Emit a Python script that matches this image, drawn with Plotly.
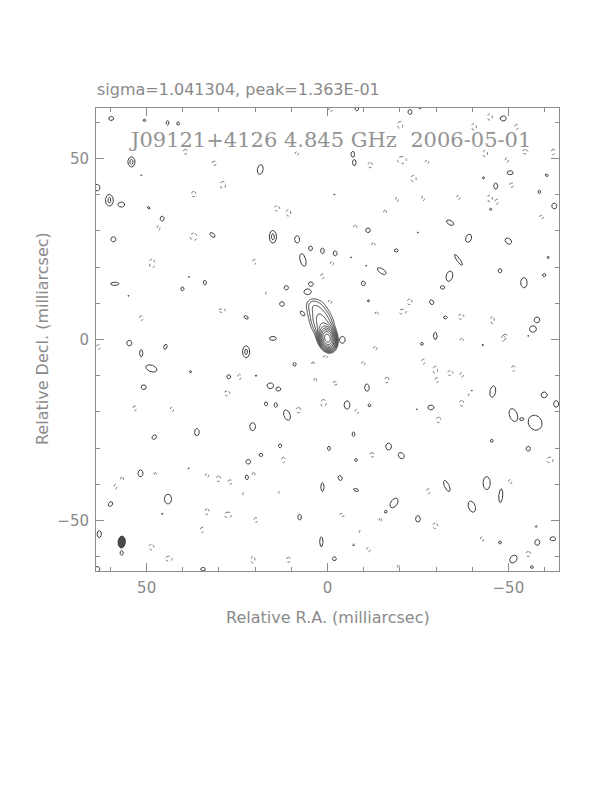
import numpy as np
import plotly.graph_objects as go

# ---------------- text ----------------
title_text = "sigma=1.041304, peak=1.363E-01"
map_label = "J09121+4126 4.845 GHz  2006-05-01"
x_title = "Relative R.A. (milliarcsec)"
y_title = "Relative Decl. (milliarcsec)"
tick_vals = [-50, 0, 50]
tick_text = ["\u221250", "0", "50"]
minor_vals = [-60, -40, -30, -20, -10, 10, 20, 30, 40, 60]
half_size = 64.0

# ---------------- main source model components (mas, mJy) ----------------
comp_x = [0.0, 1.5, 3.2, 4.6]
comp_y = [0.3, 4.5, 8.8, 10.0]
comp_flux = [118.0, 14.0, 6.0, 2.0]
comp_maj = [3.8, 6.0, 5.0, 3.0]
comp_min = [2.6, 4.8, 5.0, 3.0]
comp_pa = [15.0, 20.0, 0.0, 0.0]
contour_base = 4.25
contour_factor = np.sqrt(2.0)
n_levels = 10

# ---------------- restoring beam ----------------
beam_x = [56.9]
beam_y = [-56.0]
beam_w = [2.0]
beam_h = [3.3]
beam_pa = [-5.0]

# ---------------- positive (solid) lowest-level contour islands ----------------
pos_x = [59.8, 50.6, 44.2, 41.3, 54.2, 54.2, 51.5, 18.6, 63.7, 60.3, 60.3, 57.0, 49.4, 45.7, 59.2, 31.8, 15.1, 15.1, 8.4, 4.7, 1.4, 6.8, 58.8, 33.9, 40.1, 11.4, 4.6, 5.5, 12.6, 6.9, 22.5, 15.1, 38.3, 55.0,
         -8.1, -22.8, -25.6, -48.6, -7.0, -7.4, -50.5, -43.1, -46.5, -60.6, -58.6, -62.7, -45.1, -33.9, -11.2, -39.0, -50.0, -2.1, -19.0, -36.2, -61.0, -15.0, -33.7, -9.9, -31.8, -47.7, -59.9, -54.3, -11.3, -28.8, -32.6, -57.9, -56.8, -29.8, -1.9, -6.5, -10.7, -55.5, -25.0,
         54.8, 51.5, 44.8, 22.5, 22.5, 48.7, 37.9, 27.3, 19.8, 50.8, 15.8, 13.6, 17.0, 14.3, 11.2, 20.7, 36.1, 47.9, 13.1, 18.4, 21.9, 51.7, 22.3, 1.4, 60.0, 44.1, 45.7, 7.7, 63.1, 56.9, 1.7, 34.4, 63.7, -0.4, 9.1, 38.4,
         -4.1, -26.1, -42.9, -10.9, -45.7, -59.9, -63.2, -5.4, -11.6, -28.6, -51.4, -53.7, -57.4, -39.9, -24.7, -45.4, -7.2, -7.9, -16.9, -20.4, -55.5, -3.5, -7.9, -33.0, -44.0, -47.9, -18.4, -16.1, -39.9, -25.0, -57.7, -58.0, -62.3, -47.7, -7.2, -1.9, -51.4, -56.5]
pos_y = [61.1, 60.6, 59.9, 59.7, 49.1, 49.1, 45.4, 47.0, 42.0, 38.5, 38.5, 37.3, 36.4, 33.4, 27.7, 28.9, 28.4, 28.4, 27.7, 25.2, 24.5, 22.0, 15.4, 15.7, 14.0, 14.3, 15.3, 13.2, 9.8, 7.2, 6.1, 0.3, 17.3, 12.1,
         63.9, 62.9, 64.3, 61.1, 51.2, 48.9, 46.1, 44.7, 42.4, 45.4, 40.8, 36.9, 36.0, 32.3, 30.2, 28.0, 27.2, 23.8, 24.6, 22.0, 22.7, 18.9, 17.5, 15.5, 14.4, 19.0, 17.8, 15.7, 10.7, 10.3, 6.1, 5.4, 2.9, 1.0, 40.1, 22.7, 20.4, 1.0, 29.6,
         -1.0, -3.8, -2.0, -3.4, -3.4, -8.0, -8.9, -10.3, -10.0, -13.2, -12.8, -13.7, -17.8, -18.1, -20.9, -24.1, -25.6, -27.0, -29.4, -31.9, -33.8, -37.0, -38.1, -40.8, -45.5, -44.1, -48.2, -49.1, -53.8, -59.0, -55.9, -63.5, -63.5, -30.1, -6.9, -35.6,
         -0.1, -1.2, -1.5, -13.3, -14.4, -15.3, -17.8, -18.1, -18.2, -18.8, -20.9, -22.0, -23.0, -14.1, -19.3, -28.0, -26.2, -33.3, -29.6, -32.1, -30.2, -38.3, -41.6, -40.5, -39.7, -43.2, -45.2, -47.6, -46.2, -49.6, -51.7, -56.1, -55.1, -56.1, -56.8, -60.6, -60.7, -62.9]
pos_w = [1.4, 0.8, 0.8, 0.8, 2.0, 0.9, 0.3, 1.6, 1.6, 2.2, 0.8, 1.9, 0.5, 1.1, 1.4, 1.0, 2.0, 0.8, 1.4, 1.1, 1.0, 1.6, 2.3, 0.9, 0.9, 1.2, 1.4, 2.0, 1.3, 1.0, 0.8, 1.9, 0.3, 0.3,
         1.0, 1.1, 1.0, 1.7, 1.0, 1.0, 1.7, 0.6, 1.1, 0.9, 0.8, 1.4, 0.6, 1.2, 1.3, 1.6, 1.5, 1.1, 1.1, 0.9, 0.6, 1.3, 1.8, 1.1, 1.2, 1.1, 1.0, 1.8, 0.6, 1.1, 1.1, 1.6, 1.9, 1.0, 0.3, 0.3, 0.3, 0.3, 0.3,
         1.4, 0.9, 0.9, 2.0, 0.8, 3.2, 0.6, 1.1, 0.4, 1.4, 1.8, 1.4, 0.9, 0.9, 1.7, 1.6, 1.3, 1.1, 0.9, 1.0, 1.3, 1.4, 0.9, 0.9, 1.1, 2.0, 0.4, 1.0, 1.2, 0.9, 0.9, 1.3, 1.5, 0.8, 0.9, 0.3,
         1.6, 0.8, 0.4, 1.3, 1.6, 1.7, 1.4, 1.6, 0.8, 1.7, 2.2, 1.2, 3.7, 0.3, 0.3, 0.8, 0.8, 0.8, 1.6, 1.5, 1.2, 1.1, 0.8, 1.3, 2.0, 1.1, 1.8, 0.8, 1.9, 1.3, 0.5, 1.4, 1.6, 0.8, 0.5, 1.1, 1.8, 0.8]
pos_h = [1.1, 0.6, 1.2, 0.9, 2.8, 1.5, 0.3, 2.7, 1.8, 3.2, 1.6, 1.4, 0.8, 1.4, 1.4, 1.7, 3.5, 1.7, 2.0, 1.3, 1.6, 3.6, 0.9, 1.3, 1.1, 1.2, 1.2, 1.6, 1.3, 1.6, 1.3, 1.1, 0.3, 0.3,
         1.4, 1.4, 1.0, 1.4, 1.6, 1.7, 1.1, 0.6, 1.7, 0.6, 0.9, 1.6, 0.6, 2.2, 1.3, 2.3, 2.0, 1.4, 0.9, 3.6, 0.6, 2.8, 2.9, 1.3, 1.0, 1.1, 0.8, 2.8, 0.6, 1.4, 0.8, 1.6, 1.8, 2.0, 0.3, 0.3, 0.3, 0.3, 0.3,
         1.6, 1.9, 1.4, 3.3, 1.5, 1.8, 0.6, 1.1, 0.4, 1.3, 1.6, 1.1, 1.1, 1.3, 3.0, 2.2, 2.0, 1.4, 1.1, 0.9, 1.3, 1.9, 1.3, 2.4, 1.4, 2.7, 0.4, 1.6, 1.9, 1.3, 2.8, 1.0, 1.5, 1.2, 1.0, 0.3,
         1.9, 0.8, 0.4, 2.0, 3.2, 1.6, 1.8, 2.3, 0.8, 1.3, 3.7, 0.8, 4.3, 0.3, 0.3, 0.8, 1.3, 0.8, 1.9, 1.9, 1.3, 1.4, 1.4, 3.3, 3.6, 3.8, 3.0, 0.8, 3.2, 1.8, 0.5, 1.6, 1.1, 0.8, 0.5, 1.1, 2.4, 0.8]
pos_pa = [0, 0, 0, 0, 0, 0, 0, -10, 0, 0, 0, 0, 45, 0, 0, 50, 0, 0, 0, 0, 0, 15, 0, 0, 0, 0, 0, 0, 0, 45, 60, 0, 0, 0,
          0, 0, 0, 0, 0, 0, 0, 0, 0, -30, 0, 0, 0, 60, 0, -20, 50, 0, 0, 35, 0, 55, -15, 0, 0, 0, 0, 0, 0, 30, 0, 0, 0, 0, 0, 0, 0, 0, 0,
          0, 0, -20, 0, 0, -20, 0, 0, 0, 0, 0, 0, 0, 0, 20, 0, 0, -45, 0, 0, 0, 0, 0, 0, -40, 0, 0, 0, 0, 0, 0, 0, 0, 0, 0, 0,
          0, 0, 0, 0, -10, 0, 0, 0, 0, 0, 20, 0, 30, 0, 0, 0, 0, 0, 0, 40, 0, 30, 70, 25, 0, -5, -35, 0, 20, 0, 0, 0, 0, 0, 0, 30, -40, 0]

# ---------------- negative (dotted) contour islands ----------------
neg_x = [39.3, 31.3, 28.9, 37.0, 14.0, 10.8, 46.7, 37.0, 48.5, 20.2, 1.4, 16.9, 29.2, 51.5, 8.5,
         -0.7, -20.1, -20.6, -11.8, -27.5, -23.8, -19.2, -26.4, -36.2, -44.9, -46.8, -44.9, -40.5, -52.3, -43.6, -49.6, -54.6, -62.4, -50.9, -59.2, -15.9, -7.7, -12.7, -1.2, -22.7, -20.8, -36.9, -45.6, -13.6, -49.1,
         63.3, 53.3, 43.0, 27.8, 24.3, 4.0, 3.4, 1.1, 8.0, 12.2, 33.3, 30.1, 26.9, 47.6, 20.4, 23.2, 56.8, 58.6, 33.3, 27.5, 19.8, 34.7, 13.3, 48.7, 43.9, 20.6, 10.8,
         -13.2, -9.9, -26.5, -29.8, -30.2, -33.9, -37.1, -51.4, -16.4, -2.1, -8.1, -30.7, -37.1, -48.6, -37.1, -12.3, -61.5, -27.9, -50.5, -4.0, -14.6, -29.8, -9.0, -42.7, -11.3, -39.2, -55.5, -19.6,
         -0.7, 0.6]
neg_y = [51.9, 48.7, 42.7, 40.2, 36.2, 35.0, 30.9, 28.4, 21.0, 21.5, 17.5, 12.8, 8.0, 5.9, 51.4,
         63.4, 59.3, 49.6, 48.2, 49.1, 44.5, 38.7, 39.0, 39.3, 39.0, 38.1, 61.5, 58.8, 58.8, 51.4, 49.6, 51.9, 51.9, 42.7, 33.9, 35.3, 31.2, 26.3, 21.0, 10.4, 7.7, 6.3, 5.4, 7.2, 0.8,
         -2.0, -19.0, -19.3, -14.9, -10.3, -6.6, -11.2, -17.6, -19.5, -33.3, -37.6, -38.5, -39.4, -37.2, -37.2, -42.7, -38.5, -40.7, -47.6, -48.5, -49.9, -52.6, -42.3, -57.4, -60.6, -60.9, -60.9,
         -2.4, -6.6, -6.1, -8.4, -11.2, -9.3, -9.8, -8.0, -11.2, -12.1, -19.9, -22.2, -17.6, 0.3, -0.1, -31.9, -33.3, -41.9, -39.3, -48.5, -49.9, -51.5, -53.1, -55.2, -58.1, -15.3, -59.3, -62.8,
         10.4, -4.8]
neg_w = [1.3, 1.2, 1.5, 1.3, 1.5, 1.3, 0.8, 2.0, 1.5, 1.0, 1.0, 0.6, 2.0, 1.0, 1.0,
         1.3, 1.5, 2.5, 1.3, 1.0, 1.5, 0.8, 0.8, 1.0, 1.4, 1.0, 1.4, 1.4, 1.0, 1.4, 1.0, 1.6, 1.0, 1.2, 1.2, 0.8, 1.0, 1.0, 1.0, 1.4, 2.0, 1.6, 1.0, 1.0, 1.2,
         1.0, 1.0, 1.0, 1.6, 1.0, 0.8, 0.8, 1.6, 1.2, 1.0, 1.0, 1.2, 1.2, 0.8, 0.8, 0.6, 0.8, 0.8, 1.2, 2.0, 1.0, 0.8, 0.6, 1.4, 2.0, 1.2, 1.2,
         1.0, 1.0, 1.0, 1.4, 1.0, 1.6, 1.0, 1.0, 1.2, 1.4, 1.0, 1.2, 1.2, 1.0, 1.0, 1.4, 1.8, 1.0, 1.0, 1.2, 0.8, 1.4, 0.6, 1.0, 1.0, 0.6, 1.4, 0.8,
         1.0, 1.2]
neg_h = [1.3, 1.2, 2.0, 1.5, 1.5, 1.8, 1.3, 2.0, 2.5, 1.4, 1.4, 0.6, 1.0, 1.4, 1.0,
         0.8, 2.0, 2.0, 1.5, 1.0, 1.8, 1.3, 1.3, 1.2, 1.8, 1.4, 1.8, 1.8, 1.4, 1.8, 1.2, 1.2, 1.6, 1.2, 1.0, 1.0, 0.8, 0.8, 1.0, 1.6, 1.4, 1.4, 2.0, 0.8, 1.4,
         1.4, 1.4, 1.2, 1.4, 1.4, 0.8, 1.0, 2.0, 1.6, 1.6, 1.0, 1.6, 1.2, 0.8, 1.0, 0.6, 1.0, 1.4, 1.6, 1.6, 1.4, 1.6, 0.6, 1.6, 1.4, 1.8, 1.4,
         1.0, 1.0, 1.4, 2.0, 1.4, 1.4, 1.2, 1.6, 1.6, 1.0, 1.2, 1.6, 1.6, 1.6, 0.8, 1.2, 1.6, 1.4, 1.2, 1.0, 1.0, 1.6, 0.6, 1.2, 1.2, 0.6, 1.4, 0.6,
         1.0, 0.6]

assert len(pos_x) == len(pos_y) == len(pos_w) == len(pos_h) == len(pos_pa)
assert len(neg_x) == len(neg_y) == len(neg_w) == len(neg_h)

LINE = "#3a3a3a"
FRAME = "#8c8c8c"
TEXT = "#8a8a8a"
SANS = "DejaVu Sans"
SERIF = "DejaVu Serif"


def ellipse_paths(xs, ys, ws, hs, pas, npts=40):
    """Closed outlines in data (mas) space; pa measured from north through east."""
    t = np.linspace(0, 2 * np.pi, npts)
    px, py = [], []
    for cx, cy, w, h, pa in zip(xs, ys, ws, hs, pas):
        a = np.deg2rad(pa)
        ux, uy = np.sin(a), np.cos(a)
        vx, vy = np.cos(a), -np.sin(a)
        ex = cx + 0.5 * h * np.cos(t) * ux + 0.5 * w * np.sin(t) * vx
        ey = cy + 0.5 * h * np.cos(t) * uy + 0.5 * w * np.sin(t) * vy
        px.extend(ex.tolist() + [None])
        py.extend(ey.tolist() + [None])
    return px, py


fig = go.Figure()

# main source: model image from the components, contoured at base * factor^k
gx = np.arange(-14.0, 14.01, 0.15)
gy = np.arange(-12.0, 18.01, 0.15)
GX, GY = np.meshgrid(gx, gy)
field = np.zeros_like(GX)
for cx, cy, f, mj, mn, pa in zip(comp_x, comp_y, comp_flux, comp_maj, comp_min, comp_pa):
    a = np.deg2rad(pa)
    dx, dy = GX - cx, GY - cy
    u = dx * np.sin(a) + dy * np.cos(a)
    v = dx * np.cos(a) - dy * np.sin(a)
    sm, sn = mj / 2.3548, mn / 2.3548
    field += f * np.exp(-0.5 * ((u / sm) ** 2 + (v / sn) ** 2))
zlog = np.log(np.maximum(field, 1e-6) / contour_base) / np.log(contour_factor)
zlog = np.maximum(zlog, -3.0)
fig.add_trace(go.Contour(
    x=gx, y=gy, z=zlog,
    contours=dict(start=0, end=n_levels - 1, size=1, coloring="lines"),
    colorscale=[[0, LINE], [1, LINE]], showscale=False,
    line=dict(width=1), hoverinfo="skip"))

# positive islands (solid)
sx, sy = ellipse_paths(pos_x, pos_y, pos_w, pos_h, pos_pa)
fig.add_trace(go.Scatter(x=sx, y=sy, mode="lines",
                         line=dict(color=LINE, width=1), hoverinfo="skip"))

# negative islands (dotted)
nx, ny = ellipse_paths(neg_x, neg_y, neg_w, neg_h, [0] * len(neg_x))
fig.add_trace(go.Scatter(x=nx, y=ny, mode="lines",
                         line=dict(color="#7a7a7a", width=1, dash="dot"), hoverinfo="skip"))

# beam
bx, by = ellipse_paths(beam_x, beam_y, beam_w, beam_h, beam_pa)
fig.add_trace(go.Scatter(x=bx, y=by, mode="lines", fill="toself",
                         fillcolor="#4a4a4a", line=dict(color="#333333", width=1),
                         hoverinfo="skip"))

axis_common = dict(
    showgrid=False, zeroline=False, showline=True, linecolor=FRAME, linewidth=1,
    mirror="ticks", ticks="inside", ticklen=8, tickcolor=FRAME, tickwidth=1,
    tickvals=tick_vals, ticktext=tick_text, ticklabelstandoff=3,
    tickfont=dict(family=SANS, size=15, color=TEXT),
    minor=dict(tickvals=minor_vals, ticks="inside", ticklen=4, tickcolor=FRAME),
)
fig.update_xaxes(range=[half_size, -half_size], **axis_common)
fig.update_yaxes(range=[-half_size, half_size], **axis_common)

annotations = [
    dict(text=title_text, x=-0.002, y=1.041, xref="paper", yref="paper",
         xanchor="left", yanchor="middle", showarrow=False,
         font=dict(family=SANS, size=16, color=TEXT)),
    dict(text=map_label, x=0.505, y=0.931, xref="paper", yref="paper",
         xanchor="center", yanchor="middle", showarrow=False,
         font=dict(family=SERIF, size=21, color="#939393")),
    dict(text=x_title, x=0.5, y=-0.1015, xref="paper", yref="paper",
         xanchor="center", yanchor="middle", showarrow=False,
         font=dict(family=SANS, size=16, color=TEXT)),
    dict(text=y_title, x=-0.1166, y=0.501, xref="paper", yref="paper",
         xanchor="center", yanchor="middle", showarrow=False, textangle=-90,
         font=dict(family=SANS, size=16, color=TEXT)),
]

# the page body adds an 8 px offset, so the figure is 8 px smaller with shifted margins
fig.update_layout(
    width=604, height=784, autosize=False,
    margin=dict(l=88, r=53, t=100, b=221, pad=0),
    paper_bgcolor="white", plot_bgcolor="white",
    showlegend=False, annotations=annotations,
)

fig.write_html("out.html")
